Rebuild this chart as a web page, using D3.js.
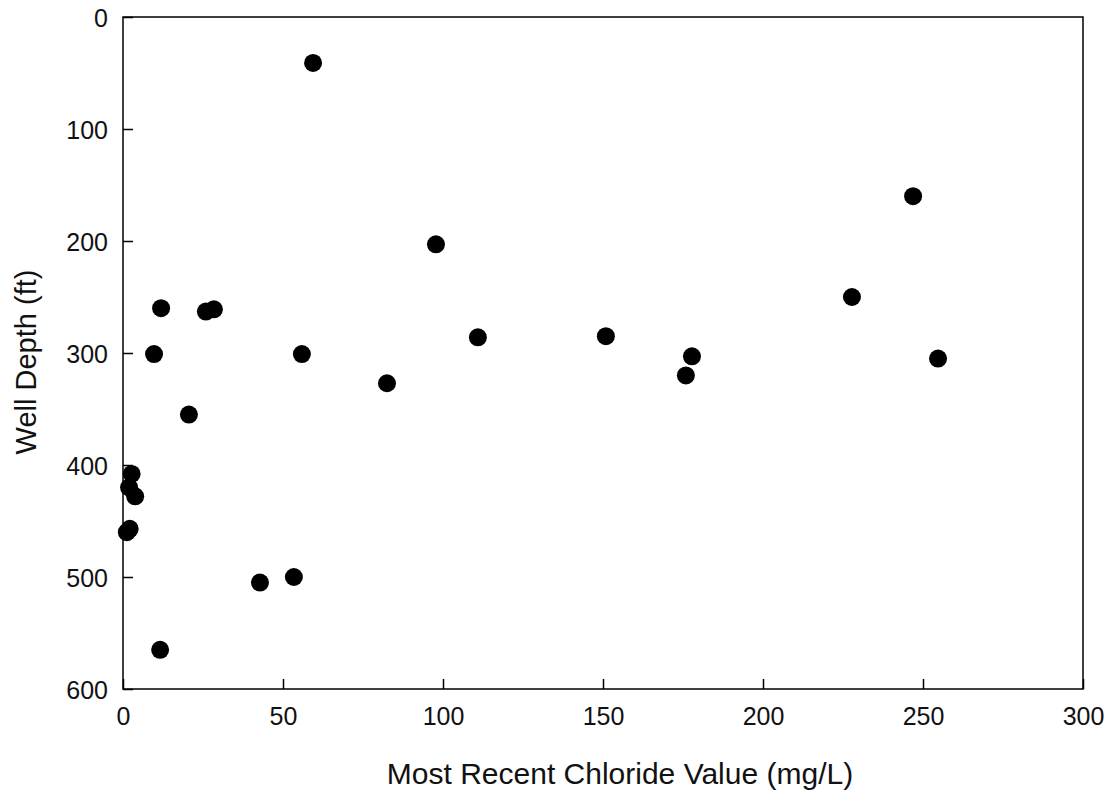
<!DOCTYPE html>
<html>
<head>
<meta charset="utf-8">
<script src="https://cdn.jsdelivr.net/npm/d3@7"></script>
<style>
  body { margin: 0; background: #fff; }
  svg { display: block; font-family: 'Liberation Sans', Arial, sans-serif; }
</style>
</head>
<body>
<div id="chart"></div>
<script>
// chloride (mg/L) vs well depth (ft)
var chloride = [59.4, 246.9, 97.8, 227.8, 11.9, 25.9, 28.4, 110.9, 150.9, 9.7, 55.9, 177.8,
    254.7, 175.9, 82.5, 20.6, 2.7, 1.9, 3.8, 2.1, 1.2, 53.4, 42.8, 11.6];
var depth = [41, 160, 203, 250, 260, 263, 261, 286, 285, 301, 301, 303,
    305, 320, 327, 355, 408, 420, 428, 457, 460, 500, 505, 565];
var xTicks = [0, 50, 100, 150, 200, 250, 300];
var yTicks = [0, 100, 200, 300, 400, 500, 600];

var width = 1111, height = 792;
var margin = {top: 17, right: 28, bottom: 103, left: 123};

var svg = d3.select('#chart').append('svg')
    .attr('width', width)
    .attr('height', height);

var x = d3.scaleLinear().domain([0, 300]).range([margin.left, width - margin.right]);
var y = d3.scaleLinear().domain([0, 600]).range([margin.top, height - margin.bottom]);

// ticks point inward
var xAxis = svg.append('g')
    .attr('transform', `translate(0, ${y(600)})`)
    .call(d3.axisBottom(x).tickValues(xTicks).tickSizeInner(-10).tickSizeOuter(0).tickPadding(18));
var yAxis = svg.append('g')
    .attr('transform', `translate(${x(0)}, 0)`)
    .call(d3.axisLeft(y).tickValues(yTicks).tickSizeInner(-10).tickSizeOuter(0).tickPadding(15));

[xAxis, yAxis].forEach(function(g) {
    g.attr('font-size', null).attr('font-family', null);
    g.selectAll('text')
        .style('font-size', '25px')
        .attr('fill', '#111');
    g.selectAll('line').attr('stroke', '#000').attr('stroke-width', 1.5);
    g.select('.domain').remove();
});
xAxis.selectAll('text').attr('dy', '0.72em');
yAxis.selectAll('text').attr('dy', '0.36em');

// frame
svg.append('rect')
    .attr('x', x(0))
    .attr('y', y(0))
    .attr('width', x(300) - x(0))
    .attr('height', y(600) - y(0))
    .attr('fill', 'none')
    .attr('stroke', '#000')
    .attr('stroke-width', 1.5);

// points
svg.append('g')
    .selectAll('circle')
    .data(d3.range(chloride.length))
    .join('circle')
    .attr('cx', function(i) { return x(chloride[i]); })
    .attr('cy', function(i) { return y(depth[i]); })
    .attr('r', 9)
    .attr('fill', '#000');

// axis titles
svg.append('text')
    .attr('x', (x(0) + x(300)) / 2 + 17)
    .attr('y', 784)
    .attr('text-anchor', 'middle')
    .attr('fill', '#111')
    .style('font-size', '30px')
    .text('Most Recent Chloride Value (mg/L)');

svg.append('text')
    .attr('transform', `translate(36, ${(y(0) + y(600)) / 2 + 9}) rotate(-90)`)
    .attr('text-anchor', 'middle')
    .attr('fill', '#111')
    .style('font-size', '29px')
    .text('Well Depth (ft)');
</script>
</body>
</html>
